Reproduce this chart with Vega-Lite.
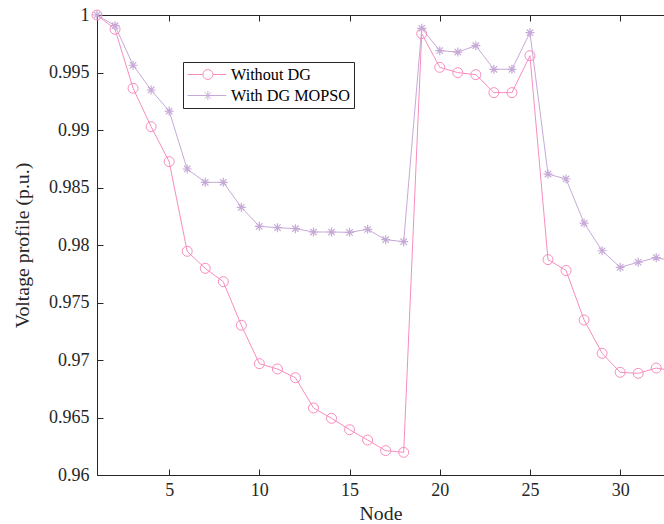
{
  "$schema": "https://vega.github.io/schema/vega-lite/v6.json",
  "width": 567,
  "height": 460,
  "autosize": "none",
  "padding": {"left": 97, "top": 15, "right": 0, "bottom": 49},
  "background": "white",
  "config": {
    "view": {"stroke": null},
    "font": "Liberation Serif",
    "axis": {
      "grid": false,
      "labelFont": "Liberation Serif",
      "labelFontSize": 18,
      "labelColor": "#262626",
      "titleFont": "Liberation Serif",
      "titleFontSize": 19.8,
      "titleFontWeight": "normal",
      "titleColor": "#262626",
      "domainColor": "#262626",
      "domainWidth": 1,
      "tickColor": "#262626",
      "tickWidth": 1,
      "tickSize": -6
    }
  },
  "data": {
    "values": [
      {"node": 1, "series": "Without DG", "v": 1.0},
      {"node": 2, "series": "Without DG", "v": 0.99876},
      {"node": 3, "series": "Without DG", "v": 0.99363},
      {"node": 4, "series": "Without DG", "v": 0.99029},
      {"node": 5, "series": "Without DG", "v": 0.98725},
      {"node": 6, "series": "Without DG", "v": 0.97945},
      {"node": 7, "series": "Without DG", "v": 0.97797},
      {"node": 8, "series": "Without DG", "v": 0.97681},
      {"node": 9, "series": "Without DG", "v": 0.97302},
      {"node": 10, "series": "Without DG", "v": 0.96968},
      {"node": 11, "series": "Without DG", "v": 0.96922},
      {"node": 12, "series": "Without DG", "v": 0.96846},
      {"node": 13, "series": "Without DG", "v": 0.96583},
      {"node": 14, "series": "Without DG", "v": 0.96493},
      {"node": 15, "series": "Without DG", "v": 0.96394},
      {"node": 16, "series": "Without DG", "v": 0.96304},
      {"node": 17, "series": "Without DG", "v": 0.96212},
      {"node": 18, "series": "Without DG", "v": 0.96197},
      {"node": 19, "series": "Without DG", "v": 0.99838},
      {"node": 20, "series": "Without DG", "v": 0.99545},
      {"node": 21, "series": "Without DG", "v": 0.99499},
      {"node": 22, "series": "Without DG", "v": 0.99481},
      {"node": 23, "series": "Without DG", "v": 0.99325},
      {"node": 24, "series": "Without DG", "v": 0.99325},
      {"node": 25, "series": "Without DG", "v": 0.99646},
      {"node": 26, "series": "Without DG", "v": 0.97873},
      {"node": 27, "series": "Without DG", "v": 0.97778},
      {"node": 28, "series": "Without DG", "v": 0.97348},
      {"node": 29, "series": "Without DG", "v": 0.97058},
      {"node": 30, "series": "Without DG", "v": 0.96893},
      {"node": 31, "series": "Without DG", "v": 0.96884},
      {"node": 32, "series": "Without DG", "v": 0.9693},
      {"node": 33, "series": "Without DG", "v": 0.96904},
      {"node": 1, "series": "With DG MOPSO", "v": 1.0},
      {"node": 2, "series": "With DG MOPSO", "v": 0.99907},
      {"node": 3, "series": "With DG MOPSO", "v": 0.99563},
      {"node": 4, "series": "With DG MOPSO", "v": 0.99348},
      {"node": 5, "series": "With DG MOPSO", "v": 0.99165},
      {"node": 6, "series": "With DG MOPSO", "v": 0.98661},
      {"node": 7, "series": "With DG MOPSO", "v": 0.98545},
      {"node": 8, "series": "With DG MOPSO", "v": 0.98545},
      {"node": 9, "series": "With DG MOPSO", "v": 0.98328},
      {"node": 10, "series": "With DG MOPSO", "v": 0.98162},
      {"node": 11, "series": "With DG MOPSO", "v": 0.98151},
      {"node": 12, "series": "With DG MOPSO", "v": 0.98142},
      {"node": 13, "series": "With DG MOPSO", "v": 0.98113},
      {"node": 14, "series": "With DG MOPSO", "v": 0.98113},
      {"node": 15, "series": "With DG MOPSO", "v": 0.9811},
      {"node": 16, "series": "With DG MOPSO", "v": 0.98136},
      {"node": 17, "series": "With DG MOPSO", "v": 0.98046},
      {"node": 18, "series": "With DG MOPSO", "v": 0.98029},
      {"node": 19, "series": "With DG MOPSO", "v": 0.99884},
      {"node": 20, "series": "With DG MOPSO", "v": 0.9969},
      {"node": 21, "series": "With DG MOPSO", "v": 0.99678},
      {"node": 22, "series": "With DG MOPSO", "v": 0.99733},
      {"node": 23, "series": "With DG MOPSO", "v": 0.99528},
      {"node": 24, "series": "With DG MOPSO", "v": 0.99528},
      {"node": 25, "series": "With DG MOPSO", "v": 0.99846},
      {"node": 26, "series": "With DG MOPSO", "v": 0.98617},
      {"node": 27, "series": "With DG MOPSO", "v": 0.98574},
      {"node": 28, "series": "With DG MOPSO", "v": 0.98191},
      {"node": 29, "series": "With DG MOPSO", "v": 0.9795},
      {"node": 30, "series": "With DG MOPSO", "v": 0.97806},
      {"node": 31, "series": "With DG MOPSO", "v": 0.9785},
      {"node": 32, "series": "With DG MOPSO", "v": 0.9789},
      {"node": 33, "series": "With DG MOPSO", "v": 0.9786}
    ]
  },
  "layer": [
    {
      "mark": {"type": "line", "strokeWidth": 1, "clip": true},
      "encoding": {
        "x": {
          "field": "node", "type": "quantitative",
          "scale": {"domain": [1, 32.43], "nice": false, "zero": false},
          "axis": {"orient": "bottom", "values": [5, 10, 15, 20, 25, 30], "title": "Node", "labelPadding": 12, "titlePadding": 4}
        },
        "y": {
          "field": "v", "type": "quantitative",
          "scale": {"domain": [0.96, 1], "nice": false, "zero": false},
          "axis": {"values": [0.96, 0.965, 0.97, 0.975, 0.98, 0.985, 0.99, 0.995, 1], "format": "~g", "title": "Voltage profile (p.u.)", "labelPadding": 14, "titlePadding": 16}
        },
        "color": {
          "field": "series", "type": "nominal",
          "scale": {"domain": ["Without DG", "With DG MOPSO"], "range": ["#F78DBF", "#C7A9D8"]},
          "legend": {
            "orient": "none", "legendX": 86, "legendY": 47,
            "title": null,
            "strokeColor": "#262626", "fillColor": "white",
            "padding": 4, "rowPadding": 4,
            "symbolSize": 256, "symbolStrokeWidth": 1,
            "labelFont": "Liberation Serif", "labelFontSize": 16.2, "labelColor": "#000000",
            "labelOffset": 27,
            "encode": {
              "symbols": {
                "update": {
                  "shape": {"signal": "datum.value === 'Without DG' ? 'M-1,0L0.925,0M2.175,0L3.84,0M2.175,0A0.625,0.625 0 1,1 0.925,0A0.625,0.625 0 1,1 2.175,0' : 'M-1,0L3.84,0M1.55,-0.56L1.55,0.56M1.15,-0.4L1.95,0.4M1.15,0.4L1.95,-0.4'"},
                  "fill": {"value": "transparent"},
                  "strokeWidth": {"value": 1},
                  "size": {"value": 256}
                }
              }
            }
          }
        }
      }
    },
    {
      "transform": [{"filter": "datum.series === 'Without DG'"}],
      "mark": {"type": "point", "shape": "M1,0A1,1 0 1,1 -1,0A1,1 0 1,1 1,0Z", "filled": false, "strokeWidth": 1, "size": 100, "opacity": 1, "clip": false},
      "encoding": {
        "x": {
          "field": "node", "type": "quantitative",
          "scale": {"domain": [1, 32.43], "nice": false, "zero": false},
          "axis": {"orient": "top", "values": [5, 10, 15, 20, 25, 30], "labels": false, "title": null}
        },
        "y": {
          "field": "v", "type": "quantitative",
          "scale": {"domain": [0.96, 1], "nice": false, "zero": false},
          "axis": {"values": [0.96, 0.965, 0.97, 0.975, 0.98, 0.985, 0.99, 0.995, 1], "format": "~g", "title": "Voltage profile (p.u.)", "labelPadding": 14, "titlePadding": 16}
        },
        "color": {"field": "series", "type": "nominal"}
      }
    },
    {
      "transform": [{"filter": "datum.series === 'With DG MOPSO'"}],
      "mark": {"type": "point", "shape": "M-0.9,0L0.9,0M0,-0.9L0,0.9M-0.64,-0.64L0.64,0.64M-0.64,0.64L0.64,-0.64", "filled": false, "strokeWidth": 1.2, "size": 100, "opacity": 1, "clip": false},
      "encoding": {
        "x": {
          "field": "node", "type": "quantitative",
          "scale": {"domain": [1, 32.43], "nice": false, "zero": false},
          "axis": null
        },
        "y": {
          "field": "v", "type": "quantitative",
          "scale": {"domain": [0.96, 1], "nice": false, "zero": false},
          "axis": {"values": [0.96, 0.965, 0.97, 0.975, 0.98, 0.985, 0.99, 0.995, 1], "format": "~g", "title": "Voltage profile (p.u.)", "labelPadding": 14, "titlePadding": 16}
        },
        "color": {"field": "series", "type": "nominal"}
      }
    }
  ],
  "resolve": {"axis": {"x": "independent"}}
}
